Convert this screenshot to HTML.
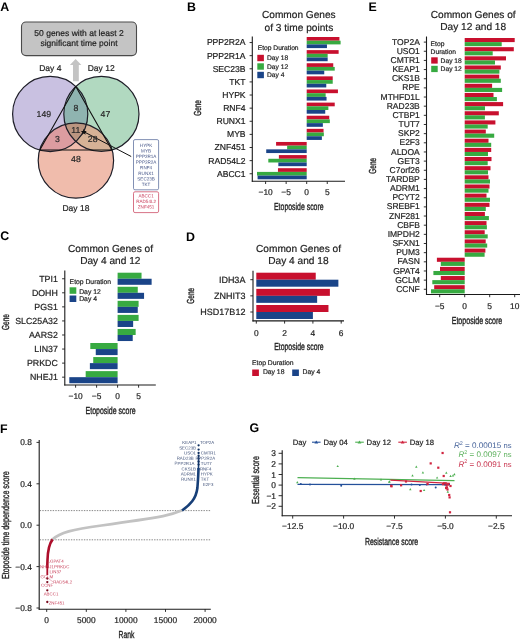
<!DOCTYPE html>
<html><head><meta charset="utf-8"><style>
html,body{margin:0;padding:0;background:#fff;}
svg{display:block;font-family:"Liberation Sans",sans-serif;will-change:transform;text-rendering:geometricPrecision;}
</style></head><body>
<svg width="520" height="641" viewBox="0 0 520 641">
<rect width="520" height="641" fill="#fff"/>
<text x="0.30" y="10.60" font-size="12.4" text-anchor="start" fill="#000" font-weight="bold" >A</text>
<text x="186.90" y="10.80" font-size="12.4" text-anchor="start" fill="#000" font-weight="bold" >B</text>
<text x="368.60" y="10.80" font-size="12.4" text-anchor="start" fill="#000" font-weight="bold" >E</text>
<text x="0.20" y="240.40" font-size="12.4" text-anchor="start" fill="#000" font-weight="bold" >C</text>
<text x="186.00" y="240.60" font-size="12.4" text-anchor="start" fill="#000" font-weight="bold" >D</text>
<text x="0.10" y="432.70" font-size="12.4" text-anchor="start" fill="#000" font-weight="bold" >F</text>
<text x="249.60" y="432.40" font-size="12.4" text-anchor="start" fill="#000" font-weight="bold" >G</text>
<defs>
<clipPath id="cP"><circle cx="50.2" cy="114" r="37.6"/></clipPath>
<clipPath id="cG"><circle cx="101.4" cy="113.9" r="37.6"/></clipPath>
<clipPath id="cS"><circle cx="75.9" cy="160.5" r="37.7"/></clipPath>
</defs>
<rect x="21.5" y="22" width="115" height="33.6" rx="4.5" fill="#c4c4c4" stroke="#4a4a4a" stroke-width="1.1"/>
<text x="79.00" y="35.80" font-size="8.5" text-anchor="middle" fill="#222" stroke="#222" stroke-width="0.2" >50 genes with at least 2</text>
<text x="79.00" y="46.40" font-size="8.5" text-anchor="middle" fill="#222" stroke="#222" stroke-width="0.2" >significant time point</text>
<path d="M75.6,59 L81.4,64.9 L78.8,64.9 L78.8,81.3 L73,81.3 L73,64.9 L69.9,64.9 Z" fill="#c4c4c4"/>
<text x="50.30" y="70.80" font-size="8.5" text-anchor="middle" fill="#222" stroke="#222" stroke-width="0.2" >Day 4</text>
<text x="101.20" y="70.80" font-size="8.5" text-anchor="middle" fill="#222" stroke="#222" stroke-width="0.2" >Day 12</text>
<text x="75.90" y="210.80" font-size="8.5" text-anchor="middle" fill="#222" stroke="#222" stroke-width="0.2" >Day 18</text>
<circle cx="50.2" cy="114" r="37.6" fill="#c9c1e1"/>
<circle cx="101.4" cy="113.9" r="37.6" fill="#b1d9c0"/>
<circle cx="75.9" cy="160.5" r="37.7" fill="#f0bcac"/>
<g clip-path="url(#cP)"><circle cx="101.4" cy="113.9" r="37.6" fill="#8fb4b0"/></g>
<g clip-path="url(#cP)"><circle cx="75.9" cy="160.5" r="37.7" fill="#dc9ca0"/></g>
<g clip-path="url(#cG)"><circle cx="75.9" cy="160.5" r="37.7" fill="#d6b296"/></g>
<g clip-path="url(#cP)"><g clip-path="url(#cG)"><circle cx="75.9" cy="160.5" r="37.7" fill="#bb9580"/></g></g>
<circle cx="50.2" cy="114" r="37.6" fill="none" stroke="#1e1e28" stroke-width="1.2"/>
<circle cx="101.4" cy="113.9" r="37.6" fill="none" stroke="#1e1e28" stroke-width="1.2"/>
<circle cx="75.9" cy="160.5" r="37.7" fill="none" stroke="#1e1e28" stroke-width="1.2"/>
<path d="M75.8,86.5 L39.8,150.0 L111.9,150.0 Z" fill="none" stroke="#111" stroke-width="1.1" stroke-linejoin="round"/>
<line x1="83.8" y1="131.7" x2="131.2" y2="156.5" stroke="#111" stroke-width="1"/>
<path d="M83.8,128.8 L84.6,131 L86.8,131.1 L85.1,132.5 L85.7,134.7 L83.8,133.4 L81.9,134.7 L82.5,132.5 L80.8,131.1 L83,131 Z" fill="#111"/>
<text x="43.80" y="116.80" font-size="8.7" text-anchor="middle" fill="#2a2a2a" stroke="#2a2a2a" stroke-width="0.2" >149</text>
<text x="76.00" y="111.30" font-size="8.7" text-anchor="middle" fill="#2a2a2a" stroke="#2a2a2a" stroke-width="0.2" >8</text>
<text x="105.40" y="117.10" font-size="8.7" text-anchor="middle" fill="#2a2a2a" stroke="#2a2a2a" stroke-width="0.2" >47</text>
<text x="75.80" y="132.60" font-size="8.7" text-anchor="middle" fill="#2a2a2a" stroke="#2a2a2a" stroke-width="0.2" >11</text>
<text x="57.50" y="141.80" font-size="8.7" text-anchor="middle" fill="#2a2a2a" stroke="#2a2a2a" stroke-width="0.2" >3</text>
<text x="92.70" y="141.80" font-size="8.7" text-anchor="middle" fill="#2a2a2a" stroke="#2a2a2a" stroke-width="0.2" >28</text>
<text x="75.90" y="162.20" font-size="8.7" text-anchor="middle" fill="#2a2a2a" stroke="#2a2a2a" stroke-width="0.2" >48</text>
<rect x="133.5" y="139.6" width="25.1" height="50.2" rx="1.5" fill="#fff" stroke="#6c7ca6" stroke-width="0.85"/>
<rect x="133.5" y="191.8" width="25.1" height="20.8" rx="1.5" fill="#fff" stroke="#d05a70" stroke-width="0.85"/>
<text x="146.10" y="146.90" font-size="4.6" text-anchor="middle" fill="#48588a" transform="rotate(0.05 146.10 146.90)" >HYPK</text>
<text x="146.10" y="152.50" font-size="4.6" text-anchor="middle" fill="#48588a" transform="rotate(0.05 146.10 152.50)" >MYB</text>
<text x="146.10" y="158.10" font-size="4.6" text-anchor="middle" fill="#48588a" transform="rotate(0.05 146.10 158.10)" >PPP2R1A</text>
<text x="146.10" y="163.70" font-size="4.6" text-anchor="middle" fill="#48588a" transform="rotate(0.05 146.10 163.70)" >PPP2R2A</text>
<text x="146.10" y="169.30" font-size="4.6" text-anchor="middle" fill="#48588a" transform="rotate(0.05 146.10 169.30)" >RNF4</text>
<text x="146.10" y="174.90" font-size="4.6" text-anchor="middle" fill="#48588a" transform="rotate(0.05 146.10 174.90)" >RUNX1</text>
<text x="146.10" y="180.50" font-size="4.6" text-anchor="middle" fill="#48588a" transform="rotate(0.05 146.10 180.50)" >SEC23B</text>
<text x="146.10" y="186.10" font-size="4.6" text-anchor="middle" fill="#48588a" transform="rotate(0.05 146.10 186.10)" >TKT</text>
<text x="146.10" y="197.60" font-size="4.6" text-anchor="middle" fill="#c83a58" transform="rotate(0.05 146.10 197.60)" >ABCC1</text>
<text x="146.10" y="203.10" font-size="4.6" text-anchor="middle" fill="#c83a58" transform="rotate(0.05 146.10 203.10)" >RAD54L2</text>
<text x="146.10" y="208.60" font-size="4.6" text-anchor="middle" fill="#c83a58" transform="rotate(0.05 146.10 208.60)" >ZNF451</text>
<rect x="306.70" y="37.00" width="32.72" height="3.70" fill="#c8102e" />
<rect x="306.70" y="40.70" width="33.91" height="3.70" fill="#37aa41" />
<rect x="306.70" y="44.40" width="20.26" height="3.70" fill="#1a4488" />
<text x="245.60" y="45.45" font-size="8.6" text-anchor="end" fill="#1e1e1e" stroke="#1e1e1e" stroke-width="0.2" >PPP2R2A</text>
<line x1="249.60" y1="42.55" x2="252.30" y2="42.55" stroke="#1a1a1a" stroke-width="0.9" />
<rect x="306.70" y="50.12" width="31.93" height="3.70" fill="#c8102e" />
<rect x="306.70" y="53.82" width="20.96" height="3.70" fill="#37aa41" />
<rect x="306.70" y="57.52" width="20.96" height="3.70" fill="#1a4488" />
<text x="245.60" y="58.57" font-size="8.6" text-anchor="end" fill="#1e1e1e" stroke="#1e1e1e" stroke-width="0.2" >PPP2R1A</text>
<line x1="249.60" y1="55.67" x2="252.30" y2="55.67" stroke="#1a1a1a" stroke-width="0.9" />
<rect x="306.70" y="63.24" width="26.55" height="3.70" fill="#c8102e" />
<rect x="306.70" y="66.94" width="28.03" height="3.70" fill="#37aa41" />
<rect x="306.70" y="70.64" width="17.55" height="3.70" fill="#1a4488" />
<text x="245.60" y="71.69" font-size="8.6" text-anchor="end" fill="#1e1e1e" stroke="#1e1e1e" stroke-width="0.2" >SEC23B</text>
<line x1="249.60" y1="68.79" x2="252.30" y2="68.79" stroke="#1a1a1a" stroke-width="0.9" />
<rect x="306.70" y="76.36" width="26.02" height="3.70" fill="#c8102e" />
<rect x="306.70" y="80.06" width="26.02" height="3.70" fill="#37aa41" />
<rect x="306.70" y="83.76" width="19.56" height="3.70" fill="#1a4488" />
<text x="245.60" y="84.81" font-size="8.6" text-anchor="end" fill="#1e1e1e" stroke="#1e1e1e" stroke-width="0.2" >TKT</text>
<line x1="249.60" y1="81.91" x2="252.30" y2="81.91" stroke="#1a1a1a" stroke-width="0.9" />
<rect x="306.70" y="89.48" width="31.24" height="3.70" fill="#c8102e" />
<rect x="306.70" y="93.18" width="18.95" height="3.70" fill="#37aa41" />
<rect x="306.70" y="96.88" width="19.85" height="3.70" fill="#1a4488" />
<text x="245.60" y="97.93" font-size="8.6" text-anchor="end" fill="#1e1e1e" stroke="#1e1e1e" stroke-width="0.2" >HYPK</text>
<line x1="249.60" y1="95.03" x2="252.30" y2="95.03" stroke="#1a1a1a" stroke-width="0.9" />
<rect x="306.70" y="102.60" width="28.03" height="3.70" fill="#c8102e" />
<rect x="306.70" y="106.30" width="21.66" height="3.70" fill="#37aa41" />
<rect x="306.70" y="110.00" width="18.54" height="3.70" fill="#1a4488" />
<text x="245.60" y="111.05" font-size="8.6" text-anchor="end" fill="#1e1e1e" stroke="#1e1e1e" stroke-width="0.2" >RNF4</text>
<line x1="249.60" y1="108.15" x2="252.30" y2="108.15" stroke="#1a1a1a" stroke-width="0.9" />
<rect x="306.70" y="115.72" width="22.56" height="3.70" fill="#c8102e" />
<rect x="306.70" y="119.42" width="23.14" height="3.70" fill="#37aa41" />
<rect x="306.70" y="123.12" width="16.15" height="3.70" fill="#1a4488" />
<text x="245.60" y="124.17" font-size="8.6" text-anchor="end" fill="#1e1e1e" stroke="#1e1e1e" stroke-width="0.2" >RUNX1</text>
<line x1="249.60" y1="121.27" x2="252.30" y2="121.27" stroke="#1a1a1a" stroke-width="0.9" />
<rect x="306.70" y="128.84" width="16.85" height="3.70" fill="#c8102e" />
<rect x="306.70" y="132.54" width="17.14" height="3.70" fill="#37aa41" />
<rect x="306.70" y="136.24" width="15.17" height="3.70" fill="#1a4488" />
<text x="245.60" y="137.29" font-size="8.6" text-anchor="end" fill="#1e1e1e" stroke="#1e1e1e" stroke-width="0.2" >MYB</text>
<line x1="249.60" y1="134.39" x2="252.30" y2="134.39" stroke="#1a1a1a" stroke-width="0.9" />
<rect x="276.08" y="141.96" width="30.62" height="3.70" fill="#c8102e" />
<rect x="287.14" y="145.66" width="19.56" height="3.70" fill="#37aa41" />
<rect x="266.22" y="149.36" width="40.48" height="3.70" fill="#1a4488" />
<text x="245.60" y="150.41" font-size="8.6" text-anchor="end" fill="#1e1e1e" stroke="#1e1e1e" stroke-width="0.2" >ZNF451</text>
<line x1="249.60" y1="147.51" x2="252.30" y2="147.51" stroke="#1a1a1a" stroke-width="0.9" />
<rect x="278.88" y="155.08" width="27.82" height="3.70" fill="#c8102e" />
<rect x="268.31" y="158.78" width="38.39" height="3.70" fill="#37aa41" />
<rect x="278.34" y="162.48" width="28.36" height="3.70" fill="#1a4488" />
<text x="245.60" y="163.53" font-size="8.6" text-anchor="end" fill="#1e1e1e" stroke="#1e1e1e" stroke-width="0.2" >RAD54L2</text>
<line x1="249.60" y1="160.63" x2="252.30" y2="160.63" stroke="#1a1a1a" stroke-width="0.9" />
<rect x="277.97" y="168.20" width="28.73" height="3.70" fill="#c8102e" />
<rect x="257.01" y="171.90" width="49.69" height="3.70" fill="#37aa41" />
<rect x="257.59" y="175.60" width="49.11" height="3.70" fill="#1a4488" />
<text x="245.60" y="176.65" font-size="8.6" text-anchor="end" fill="#1e1e1e" stroke="#1e1e1e" stroke-width="0.2" >ABCC1</text>
<line x1="249.60" y1="173.75" x2="252.30" y2="173.75" stroke="#1a1a1a" stroke-width="0.9" />
<line x1="252.30" y1="36.50" x2="252.30" y2="181.80" stroke="#1a1a1a" stroke-width="1.1" />
<line x1="251.80" y1="181.30" x2="345.00" y2="181.30" stroke="#1a1a1a" stroke-width="1.1" />
<line x1="265.60" y1="181.30" x2="265.60" y2="184.00" stroke="#1a1a1a" stroke-width="0.9" />
<text x="265.60" y="195.30" font-size="8.4" text-anchor="middle" fill="#1e1e1e" stroke="#1e1e1e" stroke-width="0.2" >−10</text>
<line x1="286.15" y1="181.30" x2="286.15" y2="184.00" stroke="#1a1a1a" stroke-width="0.9" />
<text x="286.15" y="195.30" font-size="8.4" text-anchor="middle" fill="#1e1e1e" stroke="#1e1e1e" stroke-width="0.2" >−5</text>
<line x1="306.70" y1="181.30" x2="306.70" y2="184.00" stroke="#1a1a1a" stroke-width="0.9" />
<text x="306.70" y="195.30" font-size="8.4" text-anchor="middle" fill="#1e1e1e" stroke="#1e1e1e" stroke-width="0.2" >0</text>
<line x1="327.25" y1="181.30" x2="327.25" y2="184.00" stroke="#1a1a1a" stroke-width="0.9" />
<text x="327.25" y="195.30" font-size="8.4" text-anchor="middle" fill="#1e1e1e" stroke="#1e1e1e" stroke-width="0.2" >5</text>
<text x="298.80" y="18.00" font-size="10.15" text-anchor="middle" fill="#222" stroke="#222" stroke-width="0.2" >Common Genes</text>
<text x="298.90" y="30.70" font-size="10.15" text-anchor="middle" fill="#222" stroke="#222" stroke-width="0.2" >of 3 time points</text>
<text x="298.80" y="209.60" font-size="10.2" text-anchor="middle" fill="#1e1e1e" textLength="49.6" lengthAdjust="spacingAndGlyphs" stroke="#1e1e1e" stroke-width="0.35">Etoposide score</text>
<text transform="translate(201.00,107.90) rotate(-90)" x="0" y="0" font-size="10.2" text-anchor="middle" fill="#1e1e1e" textLength="15.6" lengthAdjust="spacingAndGlyphs" stroke="#1e1e1e" stroke-width="0.35">Gene</text>
<text x="257.70" y="49.60" font-size="6.7" text-anchor="start" fill="#1e1e1e" stroke="#1e1e1e" stroke-width="0.2" >Etop Duration</text>
<rect x="257.30" y="54.80" width="6.60" height="6.40" fill="#c8102e" />
<text x="267.00" y="60.30" font-size="6.7" text-anchor="start" fill="#1e1e1e" stroke="#1e1e1e" stroke-width="0.2" >Day 18</text>
<rect x="257.30" y="63.30" width="6.60" height="6.40" fill="#37aa41" />
<text x="267.00" y="68.60" font-size="6.7" text-anchor="start" fill="#1e1e1e" stroke="#1e1e1e" stroke-width="0.2" >Day 12</text>
<rect x="257.30" y="71.80" width="6.60" height="6.40" fill="#1a4488" />
<text x="267.00" y="76.90" font-size="6.7" text-anchor="start" fill="#1e1e1e" stroke="#1e1e1e" stroke-width="0.2" >Day 4</text>
<rect x="464.70" y="38.00" width="50.00" height="4.10" fill="#c8102e" />
<rect x="464.70" y="42.10" width="37.00" height="4.10" fill="#37aa41" />
<text x="419.80" y="44.70" font-size="8.5" text-anchor="end" fill="#1e1e1e" stroke="#1e1e1e" stroke-width="0.2" >TOP2A</text>
<line x1="423.80" y1="42.10" x2="426.50" y2="42.10" stroke="#1a1a1a" stroke-width="0.9" />
<rect x="464.70" y="47.16" width="49.10" height="4.10" fill="#c8102e" />
<rect x="464.70" y="51.26" width="28.00" height="4.10" fill="#37aa41" />
<text x="419.80" y="53.86" font-size="8.5" text-anchor="end" fill="#1e1e1e" stroke="#1e1e1e" stroke-width="0.2" >USO1</text>
<line x1="423.80" y1="51.26" x2="426.50" y2="51.26" stroke="#1a1a1a" stroke-width="0.9" />
<rect x="464.70" y="56.31" width="41.30" height="4.10" fill="#c8102e" />
<rect x="464.70" y="60.41" width="30.30" height="4.10" fill="#37aa41" />
<text x="419.80" y="63.01" font-size="8.5" text-anchor="end" fill="#1e1e1e" stroke="#1e1e1e" stroke-width="0.2" >CMTR1</text>
<line x1="423.80" y1="60.41" x2="426.50" y2="60.41" stroke="#1a1a1a" stroke-width="0.9" />
<rect x="464.70" y="65.47" width="36.10" height="4.10" fill="#c8102e" />
<rect x="464.70" y="69.56" width="34.70" height="4.10" fill="#37aa41" />
<text x="419.80" y="72.16" font-size="8.5" text-anchor="end" fill="#1e1e1e" stroke="#1e1e1e" stroke-width="0.2" >KEAP1</text>
<line x1="423.80" y1="69.56" x2="426.50" y2="69.56" stroke="#1a1a1a" stroke-width="0.9" />
<rect x="464.70" y="74.62" width="34.50" height="4.10" fill="#c8102e" />
<rect x="464.70" y="78.72" width="36.10" height="4.10" fill="#37aa41" />
<text x="419.80" y="81.32" font-size="8.5" text-anchor="end" fill="#1e1e1e" stroke="#1e1e1e" stroke-width="0.2" >CKS1B</text>
<line x1="423.80" y1="78.72" x2="426.50" y2="78.72" stroke="#1a1a1a" stroke-width="0.9" />
<rect x="464.70" y="83.78" width="27.40" height="4.10" fill="#c8102e" />
<rect x="464.70" y="87.88" width="37.40" height="4.10" fill="#37aa41" />
<text x="419.80" y="90.47" font-size="8.5" text-anchor="end" fill="#1e1e1e" stroke="#1e1e1e" stroke-width="0.2" >RPE</text>
<line x1="423.80" y1="87.88" x2="426.50" y2="87.88" stroke="#1a1a1a" stroke-width="0.9" />
<rect x="464.70" y="92.93" width="28.80" height="4.10" fill="#c8102e" />
<rect x="464.70" y="97.03" width="32.20" height="4.10" fill="#37aa41" />
<text x="419.80" y="99.63" font-size="8.5" text-anchor="end" fill="#1e1e1e" stroke="#1e1e1e" stroke-width="0.2" >MTHFD1L</text>
<line x1="423.80" y1="97.03" x2="426.50" y2="97.03" stroke="#1a1a1a" stroke-width="0.9" />
<rect x="464.70" y="102.08" width="38.40" height="4.10" fill="#c8102e" />
<rect x="464.70" y="106.18" width="20.30" height="4.10" fill="#37aa41" />
<text x="419.80" y="108.78" font-size="8.5" text-anchor="end" fill="#1e1e1e" stroke="#1e1e1e" stroke-width="0.2" >RAD23B</text>
<line x1="423.80" y1="106.18" x2="426.50" y2="106.18" stroke="#1a1a1a" stroke-width="0.9" />
<rect x="464.70" y="111.24" width="34.10" height="4.10" fill="#c8102e" />
<rect x="464.70" y="115.34" width="20.20" height="4.10" fill="#37aa41" />
<text x="419.80" y="117.94" font-size="8.5" text-anchor="end" fill="#1e1e1e" stroke="#1e1e1e" stroke-width="0.2" >CTBP1</text>
<line x1="423.80" y1="115.34" x2="426.50" y2="115.34" stroke="#1a1a1a" stroke-width="0.9" />
<rect x="464.70" y="120.39" width="30.70" height="4.10" fill="#c8102e" />
<rect x="464.70" y="124.49" width="23.00" height="4.10" fill="#37aa41" />
<text x="419.80" y="127.09" font-size="8.5" text-anchor="end" fill="#1e1e1e" stroke="#1e1e1e" stroke-width="0.2" >TUT7</text>
<line x1="423.80" y1="124.49" x2="426.50" y2="124.49" stroke="#1a1a1a" stroke-width="0.9" />
<rect x="464.70" y="129.55" width="21.10" height="4.10" fill="#c8102e" />
<rect x="464.70" y="133.65" width="29.50" height="4.10" fill="#37aa41" />
<text x="419.80" y="136.25" font-size="8.5" text-anchor="end" fill="#1e1e1e" stroke="#1e1e1e" stroke-width="0.2" >SKP2</text>
<line x1="423.80" y1="133.65" x2="426.50" y2="133.65" stroke="#1a1a1a" stroke-width="0.9" />
<rect x="464.70" y="138.70" width="23.80" height="4.10" fill="#c8102e" />
<rect x="464.70" y="142.80" width="26.50" height="4.10" fill="#37aa41" />
<text x="419.80" y="145.40" font-size="8.5" text-anchor="end" fill="#1e1e1e" stroke="#1e1e1e" stroke-width="0.2" >E2F3</text>
<line x1="423.80" y1="142.80" x2="426.50" y2="142.80" stroke="#1a1a1a" stroke-width="0.9" />
<rect x="464.70" y="147.86" width="26.50" height="4.10" fill="#c8102e" />
<rect x="464.70" y="151.96" width="23.30" height="4.10" fill="#37aa41" />
<text x="419.80" y="154.56" font-size="8.5" text-anchor="end" fill="#1e1e1e" stroke="#1e1e1e" stroke-width="0.2" >ALDOA</text>
<line x1="423.80" y1="151.96" x2="426.50" y2="151.96" stroke="#1a1a1a" stroke-width="0.9" />
<rect x="464.70" y="157.01" width="26.80" height="4.10" fill="#c8102e" />
<rect x="464.70" y="161.11" width="23.00" height="4.10" fill="#37aa41" />
<text x="419.80" y="163.71" font-size="8.5" text-anchor="end" fill="#1e1e1e" stroke="#1e1e1e" stroke-width="0.2" >GET3</text>
<line x1="423.80" y1="161.11" x2="426.50" y2="161.11" stroke="#1a1a1a" stroke-width="0.9" />
<rect x="464.70" y="166.17" width="25.80" height="4.10" fill="#c8102e" />
<rect x="464.70" y="170.27" width="23.30" height="4.10" fill="#37aa41" />
<text x="419.80" y="172.87" font-size="8.5" text-anchor="end" fill="#1e1e1e" stroke="#1e1e1e" stroke-width="0.2" >C7orf26</text>
<line x1="423.80" y1="170.27" x2="426.50" y2="170.27" stroke="#1a1a1a" stroke-width="0.9" />
<rect x="464.70" y="175.32" width="23.80" height="4.10" fill="#c8102e" />
<rect x="464.70" y="179.42" width="25.30" height="4.10" fill="#37aa41" />
<text x="419.80" y="182.02" font-size="8.5" text-anchor="end" fill="#1e1e1e" stroke="#1e1e1e" stroke-width="0.2" >TARDBP</text>
<line x1="423.80" y1="179.42" x2="426.50" y2="179.42" stroke="#1a1a1a" stroke-width="0.9" />
<rect x="464.70" y="184.48" width="24.80" height="4.10" fill="#c8102e" />
<rect x="464.70" y="188.58" width="23.80" height="4.10" fill="#37aa41" />
<text x="419.80" y="191.18" font-size="8.5" text-anchor="end" fill="#1e1e1e" stroke="#1e1e1e" stroke-width="0.2" >ADRM1</text>
<line x1="423.80" y1="188.58" x2="426.50" y2="188.58" stroke="#1a1a1a" stroke-width="0.9" />
<rect x="464.70" y="193.63" width="21.80" height="4.10" fill="#c8102e" />
<rect x="464.70" y="197.73" width="25.30" height="4.10" fill="#37aa41" />
<text x="419.80" y="200.33" font-size="8.5" text-anchor="end" fill="#1e1e1e" stroke="#1e1e1e" stroke-width="0.2" >PCYT2</text>
<line x1="423.80" y1="197.73" x2="426.50" y2="197.73" stroke="#1a1a1a" stroke-width="0.9" />
<rect x="464.70" y="202.79" width="24.80" height="4.10" fill="#c8102e" />
<rect x="464.70" y="206.89" width="21.10" height="4.10" fill="#37aa41" />
<text x="419.80" y="209.49" font-size="8.5" text-anchor="end" fill="#1e1e1e" stroke="#1e1e1e" stroke-width="0.2" >SREBF1</text>
<line x1="423.80" y1="206.89" x2="426.50" y2="206.89" stroke="#1a1a1a" stroke-width="0.9" />
<rect x="464.70" y="211.94" width="20.20" height="4.10" fill="#c8102e" />
<rect x="464.70" y="216.04" width="24.20" height="4.10" fill="#37aa41" />
<text x="419.80" y="218.64" font-size="8.5" text-anchor="end" fill="#1e1e1e" stroke="#1e1e1e" stroke-width="0.2" >ZNF281</text>
<line x1="423.80" y1="216.04" x2="426.50" y2="216.04" stroke="#1a1a1a" stroke-width="0.9" />
<rect x="464.70" y="221.10" width="21.80" height="4.10" fill="#c8102e" />
<rect x="464.70" y="225.20" width="22.20" height="4.10" fill="#37aa41" />
<text x="419.80" y="227.80" font-size="8.5" text-anchor="end" fill="#1e1e1e" stroke="#1e1e1e" stroke-width="0.2" >CBFB</text>
<line x1="423.80" y1="225.20" x2="426.50" y2="225.20" stroke="#1a1a1a" stroke-width="0.9" />
<rect x="464.70" y="230.25" width="20.00" height="4.10" fill="#c8102e" />
<rect x="464.70" y="234.35" width="23.00" height="4.10" fill="#37aa41" />
<text x="419.80" y="236.95" font-size="8.5" text-anchor="end" fill="#1e1e1e" stroke="#1e1e1e" stroke-width="0.2" >IMPDH2</text>
<line x1="423.80" y1="234.35" x2="426.50" y2="234.35" stroke="#1a1a1a" stroke-width="0.9" />
<rect x="464.70" y="239.41" width="21.00" height="4.10" fill="#c8102e" />
<rect x="464.70" y="243.51" width="22.50" height="4.10" fill="#37aa41" />
<text x="419.80" y="246.11" font-size="8.5" text-anchor="end" fill="#1e1e1e" stroke="#1e1e1e" stroke-width="0.2" >SFXN1</text>
<line x1="423.80" y1="243.51" x2="426.50" y2="243.51" stroke="#1a1a1a" stroke-width="0.9" />
<rect x="464.70" y="248.56" width="20.70" height="4.10" fill="#c8102e" />
<rect x="464.70" y="252.66" width="19.90" height="4.10" fill="#37aa41" />
<text x="419.80" y="255.26" font-size="8.5" text-anchor="end" fill="#1e1e1e" stroke="#1e1e1e" stroke-width="0.2" >PUM3</text>
<line x1="423.80" y1="252.66" x2="426.50" y2="252.66" stroke="#1a1a1a" stroke-width="0.9" />
<rect x="436.90" y="257.72" width="27.80" height="4.10" fill="#c8102e" />
<rect x="440.80" y="261.82" width="23.90" height="4.10" fill="#37aa41" />
<text x="419.80" y="264.42" font-size="8.5" text-anchor="end" fill="#1e1e1e" stroke="#1e1e1e" stroke-width="0.2" >FASN</text>
<line x1="423.80" y1="261.82" x2="426.50" y2="261.82" stroke="#1a1a1a" stroke-width="0.9" />
<rect x="440.00" y="266.88" width="24.70" height="4.10" fill="#c8102e" />
<rect x="433.40" y="270.98" width="31.30" height="4.10" fill="#37aa41" />
<text x="419.80" y="273.58" font-size="8.5" text-anchor="end" fill="#1e1e1e" stroke="#1e1e1e" stroke-width="0.2" >GPAT4</text>
<line x1="423.80" y1="270.98" x2="426.50" y2="270.98" stroke="#1a1a1a" stroke-width="0.9" />
<rect x="440.80" y="276.03" width="23.90" height="4.10" fill="#c8102e" />
<rect x="432.30" y="280.13" width="32.40" height="4.10" fill="#37aa41" />
<text x="419.80" y="282.73" font-size="8.5" text-anchor="end" fill="#1e1e1e" stroke="#1e1e1e" stroke-width="0.2" >GCLM</text>
<line x1="423.80" y1="280.13" x2="426.50" y2="280.13" stroke="#1a1a1a" stroke-width="0.9" />
<rect x="434.20" y="285.18" width="30.50" height="4.10" fill="#c8102e" />
<rect x="431.00" y="289.28" width="33.70" height="4.10" fill="#37aa41" />
<text x="419.80" y="291.88" font-size="8.5" text-anchor="end" fill="#1e1e1e" stroke="#1e1e1e" stroke-width="0.2" >CCNF</text>
<line x1="423.80" y1="289.28" x2="426.50" y2="289.28" stroke="#1a1a1a" stroke-width="0.9" />
<line x1="426.50" y1="36.50" x2="426.50" y2="295.00" stroke="#1a1a1a" stroke-width="1.1" />
<line x1="426.00" y1="294.50" x2="520.00" y2="294.50" stroke="#1a1a1a" stroke-width="1.1" />
<line x1="439.70" y1="294.50" x2="439.70" y2="297.20" stroke="#1a1a1a" stroke-width="0.9" />
<text x="439.70" y="308.80" font-size="8.4" text-anchor="middle" fill="#1e1e1e" stroke="#1e1e1e" stroke-width="0.2" >−5</text>
<line x1="464.70" y1="294.50" x2="464.70" y2="297.20" stroke="#1a1a1a" stroke-width="0.9" />
<text x="464.70" y="308.80" font-size="8.4" text-anchor="middle" fill="#1e1e1e" stroke="#1e1e1e" stroke-width="0.2" >0</text>
<line x1="489.70" y1="294.50" x2="489.70" y2="297.20" stroke="#1a1a1a" stroke-width="0.9" />
<text x="489.70" y="308.80" font-size="8.4" text-anchor="middle" fill="#1e1e1e" stroke="#1e1e1e" stroke-width="0.2" >5</text>
<line x1="514.70" y1="294.50" x2="514.70" y2="297.20" stroke="#1a1a1a" stroke-width="0.9" />
<text x="514.70" y="308.80" font-size="8.4" text-anchor="middle" fill="#1e1e1e" stroke="#1e1e1e" stroke-width="0.2" >10</text>
<text x="473.20" y="18.00" font-size="10.15" text-anchor="middle" fill="#222" stroke="#222" stroke-width="0.2" >Common Genes of</text>
<text x="473.20" y="30.40" font-size="10.15" text-anchor="middle" fill="#222" stroke="#222" stroke-width="0.2" >Day 12 and 18</text>
<text x="477.00" y="323.70" font-size="10.2" text-anchor="middle" fill="#1e1e1e" textLength="50.6" lengthAdjust="spacingAndGlyphs" stroke="#1e1e1e" stroke-width="0.35">Etoposide score</text>
<text transform="translate(375.80,165.80) rotate(-90)" x="0" y="0" font-size="10.2" text-anchor="middle" fill="#1e1e1e" textLength="15.8" lengthAdjust="spacingAndGlyphs" stroke="#1e1e1e" stroke-width="0.35">Gene</text>
<text x="430.60" y="45.60" font-size="6.7" text-anchor="start" fill="#1e1e1e" stroke="#1e1e1e" stroke-width="0.2" >Etop</text>
<text x="430.60" y="53.80" font-size="6.7" text-anchor="start" fill="#1e1e1e" stroke="#1e1e1e" stroke-width="0.2" >Duration</text>
<rect x="431.20" y="57.30" width="6.50" height="6.30" fill="#c8102e" />
<text x="440.60" y="62.60" font-size="6.7" text-anchor="start" fill="#1e1e1e" stroke="#1e1e1e" stroke-width="0.2" >Day 18</text>
<rect x="431.20" y="65.80" width="6.50" height="6.30" fill="#37aa41" />
<text x="440.60" y="71.20" font-size="6.7" text-anchor="start" fill="#1e1e1e" stroke="#1e1e1e" stroke-width="0.2" >Day 12</text>
<rect x="117.60" y="272.70" width="23.94" height="6.05" fill="#37aa41" />
<rect x="117.60" y="278.75" width="34.02" height="6.05" fill="#1a4488" />
<text x="57.80" y="281.75" font-size="8.8" text-anchor="end" fill="#1e1e1e" stroke="#1e1e1e" stroke-width="0.2" >TPI1</text>
<line x1="62.10" y1="278.75" x2="64.80" y2="278.75" stroke="#1a1a1a" stroke-width="0.9" />
<rect x="117.60" y="286.76" width="20.16" height="6.05" fill="#37aa41" />
<rect x="117.60" y="292.81" width="26.46" height="6.05" fill="#1a4488" />
<text x="57.80" y="295.81" font-size="8.8" text-anchor="end" fill="#1e1e1e" stroke="#1e1e1e" stroke-width="0.2" >DOHH</text>
<line x1="62.10" y1="292.81" x2="64.80" y2="292.81" stroke="#1a1a1a" stroke-width="0.9" />
<rect x="117.60" y="300.82" width="21.00" height="6.05" fill="#37aa41" />
<rect x="117.60" y="306.87" width="20.16" height="6.05" fill="#1a4488" />
<text x="57.80" y="309.87" font-size="8.8" text-anchor="end" fill="#1e1e1e" stroke="#1e1e1e" stroke-width="0.2" >PGS1</text>
<line x1="62.10" y1="306.87" x2="64.80" y2="306.87" stroke="#1a1a1a" stroke-width="0.9" />
<rect x="117.60" y="314.88" width="21.00" height="6.05" fill="#37aa41" />
<rect x="117.60" y="320.93" width="15.54" height="6.05" fill="#1a4488" />
<text x="57.80" y="323.93" font-size="8.8" text-anchor="end" fill="#1e1e1e" stroke="#1e1e1e" stroke-width="0.2" >SLC25A32</text>
<line x1="62.10" y1="320.93" x2="64.80" y2="320.93" stroke="#1a1a1a" stroke-width="0.9" />
<rect x="117.60" y="328.94" width="18.06" height="6.05" fill="#37aa41" />
<rect x="117.60" y="334.99" width="15.12" height="6.05" fill="#1a4488" />
<text x="57.80" y="337.99" font-size="8.8" text-anchor="end" fill="#1e1e1e" stroke="#1e1e1e" stroke-width="0.2" >AARS2</text>
<line x1="62.10" y1="334.99" x2="64.80" y2="334.99" stroke="#1a1a1a" stroke-width="0.9" />
<rect x="90.30" y="343.00" width="27.30" height="6.05" fill="#37aa41" />
<rect x="95.76" y="349.05" width="21.84" height="6.05" fill="#1a4488" />
<text x="57.80" y="352.05" font-size="8.8" text-anchor="end" fill="#1e1e1e" stroke="#1e1e1e" stroke-width="0.2" >LIN37</text>
<line x1="62.10" y1="349.05" x2="64.80" y2="349.05" stroke="#1a1a1a" stroke-width="0.9" />
<rect x="93.24" y="357.06" width="24.36" height="6.05" fill="#37aa41" />
<rect x="89.88" y="363.11" width="27.72" height="6.05" fill="#1a4488" />
<text x="57.80" y="366.11" font-size="8.8" text-anchor="end" fill="#1e1e1e" stroke="#1e1e1e" stroke-width="0.2" >PRKDC</text>
<line x1="62.10" y1="363.11" x2="64.80" y2="363.11" stroke="#1a1a1a" stroke-width="0.9" />
<rect x="85.68" y="371.12" width="31.92" height="6.05" fill="#37aa41" />
<rect x="69.30" y="377.17" width="48.30" height="6.05" fill="#1a4488" />
<text x="57.80" y="380.17" font-size="8.8" text-anchor="end" fill="#1e1e1e" stroke="#1e1e1e" stroke-width="0.2" >NHEJ1</text>
<line x1="62.10" y1="377.17" x2="64.80" y2="377.17" stroke="#1a1a1a" stroke-width="0.9" />
<line x1="64.80" y1="270.40" x2="64.80" y2="385.50" stroke="#1a1a1a" stroke-width="1.1" />
<line x1="64.30" y1="385.00" x2="155.80" y2="385.00" stroke="#1a1a1a" stroke-width="1.1" />
<line x1="75.60" y1="385.00" x2="75.60" y2="387.70" stroke="#1a1a1a" stroke-width="0.9" />
<text x="75.60" y="399.30" font-size="8.4" text-anchor="middle" fill="#1e1e1e" stroke="#1e1e1e" stroke-width="0.2" >−10</text>
<line x1="96.60" y1="385.00" x2="96.60" y2="387.70" stroke="#1a1a1a" stroke-width="0.9" />
<text x="96.60" y="399.30" font-size="8.4" text-anchor="middle" fill="#1e1e1e" stroke="#1e1e1e" stroke-width="0.2" >−5</text>
<line x1="117.60" y1="385.00" x2="117.60" y2="387.70" stroke="#1a1a1a" stroke-width="0.9" />
<text x="117.60" y="399.30" font-size="8.4" text-anchor="middle" fill="#1e1e1e" stroke="#1e1e1e" stroke-width="0.2" >0</text>
<line x1="138.60" y1="385.00" x2="138.60" y2="387.70" stroke="#1a1a1a" stroke-width="0.9" />
<text x="138.60" y="399.30" font-size="8.4" text-anchor="middle" fill="#1e1e1e" stroke="#1e1e1e" stroke-width="0.2" >5</text>
<text x="110.50" y="251.60" font-size="10.15" text-anchor="middle" fill="#222" stroke="#222" stroke-width="0.2" >Common Genes of</text>
<text x="110.30" y="264.30" font-size="10.15" text-anchor="middle" fill="#222" stroke="#222" stroke-width="0.2" >Day 4 and 12</text>
<text x="110.60" y="413.70" font-size="10.2" text-anchor="middle" fill="#1e1e1e" textLength="50" lengthAdjust="spacingAndGlyphs" stroke="#1e1e1e" stroke-width="0.35">Etoposide score</text>
<text transform="translate(8.70,322.00) rotate(-90)" x="0" y="0" font-size="10.2" text-anchor="middle" fill="#1e1e1e" textLength="15.9" lengthAdjust="spacingAndGlyphs" stroke="#1e1e1e" stroke-width="0.35">Gene</text>
<text x="69.60" y="283.50" font-size="6.8" text-anchor="start" fill="#1e1e1e" stroke="#1e1e1e" stroke-width="0.2" >Etop Duration</text>
<rect x="69.60" y="287.30" width="6.70" height="6.50" fill="#37aa41" />
<text x="79.20" y="293.50" font-size="6.8" text-anchor="start" fill="#1e1e1e" stroke="#1e1e1e" stroke-width="0.2" >Day 12</text>
<rect x="69.60" y="295.50" width="6.70" height="6.50" fill="#1a4488" />
<text x="79.20" y="301.40" font-size="6.8" text-anchor="start" fill="#1e1e1e" stroke="#1e1e1e" stroke-width="0.2" >Day 4</text>
<rect x="256.30" y="272.70" width="59.43" height="7.00" fill="#c8102e" />
<rect x="256.30" y="279.70" width="82.07" height="7.00" fill="#1a4488" />
<text x="245.40" y="282.70" font-size="9.0" text-anchor="end" fill="#1e1e1e" stroke="#1e1e1e" stroke-width="0.2" >IDH3A</text>
<line x1="250.30" y1="279.70" x2="253.00" y2="279.70" stroke="#1a1a1a" stroke-width="0.9" />
<rect x="256.30" y="288.85" width="73.58" height="7.00" fill="#c8102e" />
<rect x="256.30" y="295.85" width="60.84" height="7.00" fill="#1a4488" />
<text x="245.40" y="298.85" font-size="9.0" text-anchor="end" fill="#1e1e1e" stroke="#1e1e1e" stroke-width="0.2" >ZNHIT3</text>
<line x1="250.30" y1="295.85" x2="253.00" y2="295.85" stroke="#1a1a1a" stroke-width="0.9" />
<rect x="256.30" y="305.00" width="72.16" height="7.00" fill="#c8102e" />
<rect x="256.30" y="312.00" width="56.60" height="7.00" fill="#1a4488" />
<text x="245.40" y="315.00" font-size="9.0" text-anchor="end" fill="#1e1e1e" stroke="#1e1e1e" stroke-width="0.2" >HSD17B12</text>
<line x1="250.30" y1="312.00" x2="253.00" y2="312.00" stroke="#1a1a1a" stroke-width="0.9" />
<line x1="253.00" y1="270.80" x2="253.00" y2="321.40" stroke="#1a1a1a" stroke-width="1.1" />
<line x1="252.50" y1="320.90" x2="344.00" y2="320.90" stroke="#1a1a1a" stroke-width="1.1" />
<line x1="256.30" y1="320.90" x2="256.30" y2="323.60" stroke="#1a1a1a" stroke-width="0.9" />
<text x="256.30" y="335.50" font-size="8.4" text-anchor="middle" fill="#1e1e1e" stroke="#1e1e1e" stroke-width="0.2" >0</text>
<line x1="284.60" y1="320.90" x2="284.60" y2="323.60" stroke="#1a1a1a" stroke-width="0.9" />
<text x="284.60" y="335.50" font-size="8.4" text-anchor="middle" fill="#1e1e1e" stroke="#1e1e1e" stroke-width="0.2" >2</text>
<line x1="312.90" y1="320.90" x2="312.90" y2="323.60" stroke="#1a1a1a" stroke-width="0.9" />
<text x="312.90" y="335.50" font-size="8.4" text-anchor="middle" fill="#1e1e1e" stroke="#1e1e1e" stroke-width="0.2" >4</text>
<line x1="341.20" y1="320.90" x2="341.20" y2="323.60" stroke="#1a1a1a" stroke-width="0.9" />
<text x="341.20" y="335.50" font-size="8.4" text-anchor="middle" fill="#1e1e1e" stroke="#1e1e1e" stroke-width="0.2" >6</text>
<text x="298.50" y="251.60" font-size="10.15" text-anchor="middle" fill="#222" stroke="#222" stroke-width="0.2" >Common Genes of</text>
<text x="298.40" y="264.00" font-size="10.15" text-anchor="middle" fill="#222" stroke="#222" stroke-width="0.2" >Day 4 and 18</text>
<text x="298.90" y="349.70" font-size="10.2" text-anchor="middle" fill="#1e1e1e" textLength="49.4" lengthAdjust="spacingAndGlyphs" stroke="#1e1e1e" stroke-width="0.35">Etoposide score</text>
<text transform="translate(194.40,295.80) rotate(-90)" x="0" y="0" font-size="10.2" text-anchor="middle" fill="#1e1e1e" textLength="15.8" lengthAdjust="spacingAndGlyphs" stroke="#1e1e1e" stroke-width="0.35">Gene</text>
<text x="252.00" y="365.00" font-size="6.8" text-anchor="start" fill="#1e1e1e" stroke="#1e1e1e" stroke-width="0.2" >Etop Duration</text>
<rect x="252.20" y="369.50" width="6.70" height="6.50" fill="#c8102e" />
<text x="262.90" y="374.10" font-size="6.8" text-anchor="start" fill="#1e1e1e" stroke="#1e1e1e" stroke-width="0.2" >Day 18</text>
<rect x="292.20" y="369.50" width="6.70" height="6.50" fill="#1a4488" />
<text x="302.60" y="374.10" font-size="6.8" text-anchor="start" fill="#1e1e1e" stroke="#1e1e1e" stroke-width="0.2" >Day 4</text>
<line x1="39.20" y1="440.00" x2="39.20" y2="609.70" stroke="#1a1a1a" stroke-width="1.1" />
<line x1="38.70" y1="609.20" x2="210.80" y2="609.20" stroke="#1a1a1a" stroke-width="1.1" />
<line x1="36.50" y1="442.40" x2="39.20" y2="442.40" stroke="#1a1a1a" stroke-width="0.9" />
<text x="31.80" y="445.40" font-size="8.4" text-anchor="end" fill="#1e1e1e" stroke="#1e1e1e" stroke-width="0.2" >0.8</text>
<line x1="36.50" y1="483.80" x2="39.20" y2="483.80" stroke="#1a1a1a" stroke-width="0.9" />
<text x="31.80" y="486.80" font-size="8.4" text-anchor="end" fill="#1e1e1e" stroke="#1e1e1e" stroke-width="0.2" >0.4</text>
<line x1="36.50" y1="525.20" x2="39.20" y2="525.20" stroke="#1a1a1a" stroke-width="0.9" />
<text x="31.80" y="528.20" font-size="8.4" text-anchor="end" fill="#1e1e1e" stroke="#1e1e1e" stroke-width="0.2" >0.0</text>
<line x1="36.50" y1="566.60" x2="39.20" y2="566.60" stroke="#1a1a1a" stroke-width="0.9" />
<text x="31.80" y="569.60" font-size="8.4" text-anchor="end" fill="#1e1e1e" stroke="#1e1e1e" stroke-width="0.2" >−0.4</text>
<line x1="36.50" y1="608.00" x2="39.20" y2="608.00" stroke="#1a1a1a" stroke-width="0.9" />
<text x="31.80" y="611.00" font-size="8.4" text-anchor="end" fill="#1e1e1e" stroke="#1e1e1e" stroke-width="0.2" >−0.8</text>
<line x1="46.70" y1="609.20" x2="46.70" y2="611.90" stroke="#1a1a1a" stroke-width="0.9" />
<text x="46.70" y="623.30" font-size="8.4" text-anchor="middle" fill="#1e1e1e" stroke="#1e1e1e" stroke-width="0.2" >0</text>
<line x1="86.30" y1="609.20" x2="86.30" y2="611.90" stroke="#1a1a1a" stroke-width="0.9" />
<text x="86.30" y="623.30" font-size="8.4" text-anchor="middle" fill="#1e1e1e" stroke="#1e1e1e" stroke-width="0.2" >5000</text>
<line x1="125.90" y1="609.20" x2="125.90" y2="611.90" stroke="#1a1a1a" stroke-width="0.9" />
<text x="125.90" y="623.30" font-size="8.4" text-anchor="middle" fill="#1e1e1e" stroke="#1e1e1e" stroke-width="0.2" >10000</text>
<line x1="165.50" y1="609.20" x2="165.50" y2="611.90" stroke="#1a1a1a" stroke-width="0.9" />
<text x="165.50" y="623.30" font-size="8.4" text-anchor="middle" fill="#1e1e1e" stroke="#1e1e1e" stroke-width="0.2" >15000</text>
<line x1="205.10" y1="609.20" x2="205.10" y2="611.90" stroke="#1a1a1a" stroke-width="0.9" />
<text x="205.10" y="623.30" font-size="8.4" text-anchor="middle" fill="#1e1e1e" stroke="#1e1e1e" stroke-width="0.2" >20000</text>
<text x="126.40" y="638.00" font-size="10.2" text-anchor="middle" fill="#1e1e1e" textLength="15.8" lengthAdjust="spacingAndGlyphs" stroke="#1e1e1e" stroke-width="0.35">Rank</text>
<text transform="translate(8.70,525.10) rotate(-90)" x="0" y="0" font-size="10.2" text-anchor="middle" fill="#1e1e1e" textLength="107.8" lengthAdjust="spacingAndGlyphs" stroke="#1e1e1e" stroke-width="0.35">Etoposide time dependence score</text>
<line x1="39.70" y1="510.60" x2="210.50" y2="510.60" stroke="#555" stroke-width="0.7" stroke-dasharray="1.4 1.2"/>
<line x1="39.70" y1="539.80" x2="210.50" y2="539.80" stroke="#555" stroke-width="0.7" stroke-dasharray="1.4 1.2"/>
<path d="M52.3,539.6 C60,532.5 72,529.5 101.5,525.5 C125,522.3 145,519.5 163,516.2 C172,514.5 177,512.5 182.3,510.3" fill="none" stroke="#c2c2c2" stroke-width="2.7"/>
<path d="M182,510.5 C190,505 196,499 197.4,488 C198,480 198.4,475 198.5,468" fill="none" stroke="#173f78" stroke-width="2.6"/>
<path d="M198.5,470 L198.6,456" fill="none" stroke="#173f78" stroke-width="1.6"/>
<path d="M52.6,539.4 C49,544 47.8,550 47.5,560 C47.3,564 47.3,566 47.3,568" fill="none" stroke="#ad0e2b" stroke-width="2.6"/>
<path d="M47.3,566 L47.3,575" fill="none" stroke="#ad0e2b" stroke-width="1.8"/>
<path d="M48.3,578.5 L53,581.8 M48.6,563.5 L50.2,561.5" fill="none" stroke="#d05070" stroke-width="0.4"/>
<circle cx="198.6" cy="445.3" r="1.15" fill="#0f2f60"/>
<circle cx="198.6" cy="449.6" r="1.15" fill="#0f2f60"/>
<circle cx="198.6" cy="453" r="1.15" fill="#0f2f60"/>
<circle cx="198.6" cy="455.6" r="1.15" fill="#0f2f60"/>
<circle cx="198.6" cy="458.6" r="1.15" fill="#0f2f60"/>
<circle cx="198.6" cy="461.6" r="1.15" fill="#0f2f60"/>
<circle cx="198.6" cy="464.6" r="1.15" fill="#0f2f60"/>
<circle cx="47.3" cy="578.5" r="1.15" fill="#7a0a1e"/>
<circle cx="47.3" cy="582.1" r="1.15" fill="#7a0a1e"/>
<circle cx="47.3" cy="590.3" r="1.15" fill="#7a0a1e"/>
<circle cx="47.3" cy="602" r="1.15" fill="#7a0a1e"/>
<text x="196.50" y="443.90" font-size="4.4" text-anchor="end" fill="#3d4f78" transform="rotate(0.05 196.50 443.90)" >KEAP1</text>
<text x="199.90" y="443.90" font-size="4.4" text-anchor="start" fill="#3d4f78" transform="rotate(0.05 199.90 443.90)" >TOP2A</text>
<text x="196.00" y="449.50" font-size="4.4" text-anchor="end" fill="#3d4f78" transform="rotate(0.05 196.00 449.50)" >SEC23B</text>
<text x="196.00" y="454.60" font-size="4.4" text-anchor="end" fill="#3d4f78" transform="rotate(0.05 196.00 454.60)" >USO1</text>
<text x="200.80" y="454.60" font-size="4.4" text-anchor="start" fill="#3d4f78" transform="rotate(0.05 200.80 454.60)" >CMTR1</text>
<text x="193.80" y="459.80" font-size="4.4" text-anchor="end" fill="#3d4f78" transform="rotate(0.05 193.80 459.80)" >RAD23B</text>
<text x="195.40" y="459.80" font-size="4.4" text-anchor="start" fill="#3d4f78" transform="rotate(0.05 195.40 459.80)" >PPP2R2A</text>
<text x="194.40" y="464.90" font-size="4.4" text-anchor="end" fill="#3d4f78" transform="rotate(0.05 194.40 464.90)" >PPP2R1A</text>
<text x="200.80" y="464.90" font-size="4.4" text-anchor="start" fill="#3d4f78" transform="rotate(0.05 200.80 464.90)" >TUT7</text>
<text x="196.00" y="470.50" font-size="4.4" text-anchor="end" fill="#3d4f78" transform="rotate(0.05 196.00 470.50)" >CKS1B</text>
<text x="199.90" y="470.50" font-size="4.4" text-anchor="start" fill="#3d4f78" transform="rotate(0.05 199.90 470.50)" >RNF4</text>
<text x="196.00" y="475.60" font-size="4.4" text-anchor="end" fill="#3d4f78" transform="rotate(0.05 196.00 475.60)" >ADRM1</text>
<text x="200.80" y="475.60" font-size="4.4" text-anchor="start" fill="#3d4f78" transform="rotate(0.05 200.80 475.60)" >HYPK</text>
<text x="196.00" y="480.80" font-size="4.4" text-anchor="end" fill="#3d4f78" transform="rotate(0.05 196.00 480.80)" >RUNX1</text>
<text x="200.80" y="480.80" font-size="4.4" text-anchor="start" fill="#3d4f78" transform="rotate(0.05 200.80 480.80)" >TKT</text>
<text x="202.90" y="486.00" font-size="4.4" text-anchor="start" fill="#3d4f78" transform="rotate(0.05 202.90 486.00)" >E2F3</text>
<text x="50.00" y="562.80" font-size="4.4" text-anchor="start" fill="#c8405a" transform="rotate(0.05 50.00 562.80)" >GPAT4</text>
<text x="40.00" y="568.20" font-size="4.4" text-anchor="start" fill="#c8405a" transform="rotate(0.05 40.00 568.20)" >NHEJ1</text>
<text x="54.10" y="568.20" font-size="4.4" text-anchor="start" fill="#c8405a" transform="rotate(0.05 54.10 568.20)" >PRKDC</text>
<text x="49.60" y="573.20" font-size="4.4" text-anchor="start" fill="#c8405a" transform="rotate(0.05 49.60 573.20)" >LIN37</text>
<text x="40.50" y="578.20" font-size="4.4" text-anchor="start" fill="#c8405a" transform="rotate(0.05 40.50 578.20)" >GCLM</text>
<text x="53.20" y="583.60" font-size="4.4" text-anchor="start" fill="#c8405a" transform="rotate(0.05 53.20 583.60)" >RAD54L2</text>
<text x="41.00" y="586.80" font-size="4.4" text-anchor="start" fill="#c8405a" transform="rotate(0.05 41.00 586.80)" >CCNF</text>
<text x="43.70" y="595.40" font-size="4.4" text-anchor="start" fill="#c8405a" transform="rotate(0.05 43.70 595.40)" >ABCC1</text>
<text x="48.70" y="604.50" font-size="4.4" text-anchor="start" fill="#c8405a" transform="rotate(0.05 48.70 604.50)" >ZNF451</text>
<line x1="282.20" y1="450.30" x2="282.20" y2="516.30" stroke="#1a1a1a" stroke-width="1.1" />
<line x1="281.70" y1="515.80" x2="512.00" y2="515.80" stroke="#1a1a1a" stroke-width="1.1" />
<line x1="278.60" y1="453.30" x2="282.20" y2="453.30" stroke="#1a1a1a" stroke-width="0.9" />
<text x="276.00" y="456.30" font-size="8.4" text-anchor="end" fill="#1e1e1e" stroke="#1e1e1e" stroke-width="0.2" >3</text>
<line x1="278.60" y1="463.90" x2="282.20" y2="463.90" stroke="#1a1a1a" stroke-width="0.9" />
<text x="276.00" y="466.90" font-size="8.4" text-anchor="end" fill="#1e1e1e" stroke="#1e1e1e" stroke-width="0.2" >2</text>
<line x1="278.60" y1="474.50" x2="282.20" y2="474.50" stroke="#1a1a1a" stroke-width="0.9" />
<text x="276.00" y="477.50" font-size="8.4" text-anchor="end" fill="#1e1e1e" stroke="#1e1e1e" stroke-width="0.2" >1</text>
<line x1="278.60" y1="485.10" x2="282.20" y2="485.10" stroke="#1a1a1a" stroke-width="0.9" />
<text x="276.00" y="488.10" font-size="8.4" text-anchor="end" fill="#1e1e1e" stroke="#1e1e1e" stroke-width="0.2" >0</text>
<line x1="278.60" y1="495.70" x2="282.20" y2="495.70" stroke="#1a1a1a" stroke-width="0.9" />
<text x="276.00" y="498.70" font-size="8.4" text-anchor="end" fill="#1e1e1e" stroke="#1e1e1e" stroke-width="0.2" >−1</text>
<line x1="278.60" y1="506.30" x2="282.20" y2="506.30" stroke="#1a1a1a" stroke-width="0.9" />
<text x="276.00" y="509.30" font-size="8.4" text-anchor="end" fill="#1e1e1e" stroke="#1e1e1e" stroke-width="0.2" >−2</text>
<line x1="292.70" y1="515.80" x2="292.70" y2="518.60" stroke="#1a1a1a" stroke-width="0.9" />
<text x="292.70" y="529.20" font-size="8.4" text-anchor="middle" fill="#1e1e1e" stroke="#1e1e1e" stroke-width="0.2" >−12.5</text>
<line x1="343.60" y1="515.80" x2="343.60" y2="518.60" stroke="#1a1a1a" stroke-width="0.9" />
<text x="343.60" y="529.20" font-size="8.4" text-anchor="middle" fill="#1e1e1e" stroke="#1e1e1e" stroke-width="0.2" >−10.0</text>
<line x1="394.50" y1="515.80" x2="394.50" y2="518.60" stroke="#1a1a1a" stroke-width="0.9" />
<text x="394.50" y="529.20" font-size="8.4" text-anchor="middle" fill="#1e1e1e" stroke="#1e1e1e" stroke-width="0.2" >−7.5</text>
<line x1="445.40" y1="515.80" x2="445.40" y2="518.60" stroke="#1a1a1a" stroke-width="0.9" />
<text x="445.40" y="529.20" font-size="8.4" text-anchor="middle" fill="#1e1e1e" stroke="#1e1e1e" stroke-width="0.2" >−5.0</text>
<line x1="496.30" y1="515.80" x2="496.30" y2="518.60" stroke="#1a1a1a" stroke-width="0.9" />
<text x="496.30" y="529.20" font-size="8.4" text-anchor="middle" fill="#1e1e1e" stroke="#1e1e1e" stroke-width="0.2" >−2.5</text>
<text x="391.60" y="544.60" font-size="10.2" text-anchor="middle" fill="#1e1e1e" textLength="53.3" lengthAdjust="spacingAndGlyphs" stroke="#1e1e1e" stroke-width="0.35">Resistance score</text>
<text transform="translate(258.80,480.10) rotate(-90)" x="0" y="0" font-size="10.2" text-anchor="middle" fill="#1e1e1e" textLength="48" lengthAdjust="spacingAndGlyphs" stroke="#1e1e1e" stroke-width="0.35">Essential score</text>
<text x="292.70" y="444.60" font-size="7.7" text-anchor="start" fill="#1e1e1e" stroke="#1e1e1e" stroke-width="0.2" >Day</text>
<line x1="312.00" y1="442.20" x2="320.60" y2="442.20" stroke="#24509a" stroke-width="1.1" />
<path d="M316.3,440.4 L318.2,443.5 L314.4,443.5 Z" fill="#24509a"/>
<text x="323.40" y="444.60" font-size="7.7" text-anchor="start" fill="#1e1e1e" stroke="#1e1e1e" stroke-width="0.2" >Day 04</text>
<line x1="355.20" y1="442.20" x2="363.80" y2="442.20" stroke="#4caf50" stroke-width="1.1" />
<path d="M359.5,440.4 L361.4,443.5 L357.6,443.5 Z" fill="#4caf50"/>
<text x="366.60" y="444.60" font-size="7.7" text-anchor="start" fill="#1e1e1e" stroke="#1e1e1e" stroke-width="0.2" >Day 12</text>
<line x1="398.30" y1="442.20" x2="406.90" y2="442.20" stroke="#d0243f" stroke-width="1.1" />
<path d="M402.6,440.4 L404.5,443.5 L400.7,443.5 Z" fill="#d0243f"/>
<text x="409.70" y="444.60" font-size="7.7" text-anchor="start" fill="#1e1e1e" stroke="#1e1e1e" stroke-width="0.2" >Day 18</text>
<line x1="297.50" y1="477.60" x2="454.50" y2="480.60" stroke="#4caf50" stroke-width="1.2" />
<line x1="297.50" y1="484.40" x2="450.00" y2="484.60" stroke="#24509a" stroke-width="1.2" />
<line x1="390.40" y1="480.20" x2="450.00" y2="483.40" stroke="#d0243f" stroke-width="1.2" />
<path d="M337.7,464.9 L338.9,467.1 L336.5,467.1 Z" fill="#4caf50"/>
<path d="M297.3,481.0 L298.5,483.2 L296.1,483.2 Z" fill="#4caf50"/>
<path d="M354.4,477.6 L355.6,479.8 L353.2,479.8 Z" fill="#4caf50"/>
<path d="M381.0,478.3 L382.2,480.5 L379.8,480.5 Z" fill="#4caf50"/>
<path d="M389.2,480.6 L390.4,482.8 L388.0,482.8 Z" fill="#4caf50"/>
<path d="M416.3,465.5 L417.5,467.7 L415.1,467.7 Z" fill="#4caf50"/>
<path d="M422.9,471.2 L424.1,473.4 L421.7,473.4 Z" fill="#4caf50"/>
<path d="M412.5,474.2 L413.7,476.4 L411.3,476.4 Z" fill="#4caf50"/>
<path d="M446.3,471.6 L447.5,473.8 L445.1,473.8 Z" fill="#4caf50"/>
<path d="M450.6,474.7 L451.8,476.9 L449.4,476.9 Z" fill="#4caf50"/>
<path d="M454.4,473.0 L455.6,475.2 L453.2,475.2 Z" fill="#4caf50"/>
<path d="M437.1,476.4 L438.3,478.6 L435.9,478.6 Z" fill="#4caf50"/>
<path d="M389.5,480.2 L390.7,482.4 L388.3,482.4 Z" fill="#4caf50"/>
<path d="M410.3,488.0 L411.5,490.2 L409.1,490.2 Z" fill="#4caf50"/>
<path d="M424.1,488.9 L425.3,491.1 L422.9,491.1 Z" fill="#4caf50"/>
<path d="M447.8,490.6 L449.0,492.8 L446.6,492.8 Z" fill="#4caf50"/>
<path d="M453.0,474.2 L454.2,476.4 L451.8,476.4 Z" fill="#4caf50"/>
<circle cx="300.8" cy="484" r="1.0" fill="#24509a"/>
<circle cx="310" cy="484.6" r="1.0" fill="#24509a"/>
<circle cx="341.2" cy="485.8" r="1.0" fill="#24509a"/>
<circle cx="435.7" cy="487.6" r="1.0" fill="#24509a"/>
<circle cx="411.5" cy="484.6" r="1.0" fill="#24509a"/>
<circle cx="419.8" cy="485" r="1.0" fill="#24509a"/>
<circle cx="426.7" cy="484.6" r="1.0" fill="#24509a"/>
<circle cx="445" cy="484.8" r="1.0" fill="#24509a"/>
<rect x="441.5" y="451.9" width="2.2" height="2.2" fill="#d0243f"/>
<rect x="429.6" y="462.3" width="2.2" height="2.2" fill="#d0243f"/>
<rect x="437.2" y="466.6" width="2.2" height="2.2" fill="#d0243f"/>
<rect x="442.6" y="474.9" width="2.2" height="2.2" fill="#d0243f"/>
<rect x="390.1" y="484.7" width="2.2" height="2.2" fill="#d0243f"/>
<rect x="400.0" y="484.2" width="2.2" height="2.2" fill="#d0243f"/>
<rect x="419.6" y="489.9" width="2.2" height="2.2" fill="#d0243f"/>
<rect x="445.0" y="487.0" width="2.2" height="2.2" fill="#d0243f"/>
<rect x="448.1" y="493.9" width="2.2" height="2.2" fill="#d0243f"/>
<rect x="448.5" y="496.3" width="2.2" height="2.2" fill="#d0243f"/>
<rect x="448.9" y="511.2" width="2.2" height="2.2" fill="#d0243f"/>
<rect x="426.5" y="482.9" width="2.2" height="2.2" fill="#d0243f"/>
<rect x="404.9" y="480.4" width="2.2" height="2.2" fill="#d0243f"/>
<rect x="444.6" y="482.2" width="2.2" height="2.2" fill="#d0243f"/>
<rect x="442.9" y="482.2" width="2.2" height="2.2" fill="#d0243f"/>
<rect x="390.4" y="485.2" width="2.2" height="2.2" fill="#d0243f"/>
<rect x="446.9" y="483.4" width="2.2" height="2.2" fill="#d0243f"/>
<rect x="449.4" y="484.9" width="2.2" height="2.2" fill="#d0243f"/>
<rect x="445.4" y="484.4" width="2.2" height="2.2" fill="#d0243f"/>
<rect x="445.9" y="486.4" width="2.2" height="2.2" fill="#d0243f"/>
<rect x="446.4" y="488.4" width="2.2" height="2.2" fill="#d0243f"/>
<rect x="441.9" y="483.1" width="2.2" height="2.2" fill="#d0243f"/>
<text x="511.6" y="447.7" font-size="8.1" text-anchor="end" fill="#46639a"><tspan font-style="italic">R</tspan><tspan dy="-3.2" font-size="5.4">2</tspan><tspan dy="3.2"> = 0.00015 </tspan><tspan font-size="7.6">ns</tspan></text>
<text x="511.6" y="456.9" font-size="8.1" text-anchor="end" fill="#5cb05c"><tspan font-style="italic">R</tspan><tspan dy="-3.2" font-size="5.4">2</tspan><tspan dy="3.2"> = 0.0097 </tspan><tspan font-size="7.6">ns</tspan></text>
<text x="511.6" y="466.6" font-size="8.1" text-anchor="end" fill="#c8324c"><tspan font-style="italic">R</tspan><tspan dy="-3.2" font-size="5.4">2</tspan><tspan dy="3.2"> = 0.0091 </tspan><tspan font-size="7.6">ns</tspan></text>
</svg>
</body></html>
